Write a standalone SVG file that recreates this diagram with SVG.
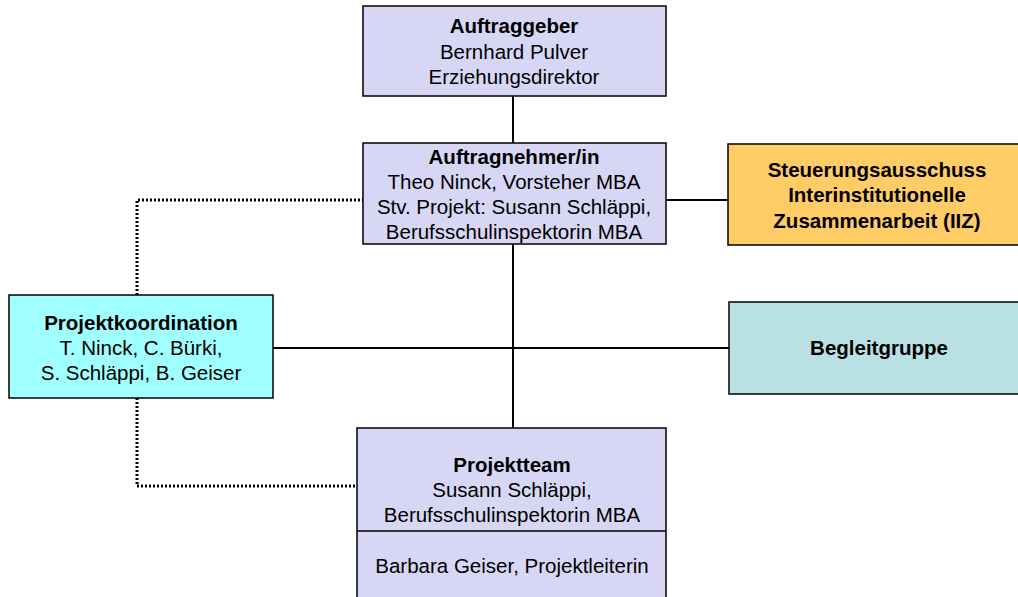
<svg xmlns="http://www.w3.org/2000/svg" width="1018" height="597" viewBox="0 0 1018 597">
<style>
.box{stroke:#000;stroke-width:1.5}
.lav{fill:#d7d7f5}
.cyan{fill:#a0ffff}
.orange{fill:#ffcc66}
.teal{fill:#b9e0e3}
text{font-family:"Liberation Sans",Arial,sans-serif;font-size:20.5px;fill:#000;text-anchor:middle}
.b{font-weight:bold}
.solid{stroke:#000;stroke-width:2;fill:none}
.dot{stroke:#000;stroke-width:3;stroke-dasharray:2 2;fill:none}
</style>
<rect width="1018" height="597" fill="#fff"/>
<g id="connectors">
<line class="solid" x1="513" y1="96" x2="513" y2="143"/>
<line class="solid" x1="513" y1="244" x2="513" y2="428"/>
<line class="solid" x1="666" y1="200" x2="728" y2="200"/>
<line class="solid" x1="273" y1="348" x2="729" y2="348"/>
<polyline class="dot" points="137,295 137,200 363,200"/>
<polyline class="dot" points="137,398 137,486 357,486"/>
</g>
<g id="auftraggeber">
<rect class="box lav" x="363" y="6" width="303" height="90"/>
<text class="b" x="514" y="33">Auftraggeber</text>
<text x="514" y="59">Bernhard Pulver</text>
<text x="514" y="84">Erziehungsdirektor</text>
</g>
<g id="auftragnehmer">
<rect class="box lav" x="363" y="143" width="303" height="101"/>
<text class="b" x="514" y="164">Auftragnehmer/in</text>
<text x="514" y="189">Theo Ninck, Vorsteher MBA</text>
<text x="514" y="214">Stv. Projekt: Susann Schläppi,</text>
<text x="514" y="239">Berufsschulinspektorin MBA</text>
</g>
<g id="steuerungsausschuss">
<rect class="box orange" x="728" y="144" width="298" height="101"/>
<text class="b" x="877" y="177">Steuerungsausschuss</text>
<text class="b" x="877" y="202">Interinstitutionelle</text>
<text class="b" x="877" y="228">Zusammenarbeit (IIZ)</text>
</g>
<g id="projektkoordination">
<rect class="box cyan" x="9" y="295" width="264" height="103"/>
<text class="b" x="141" y="330">Projektkoordination</text>
<text x="141" y="355">T. Ninck, C. Bürki,</text>
<text x="141" y="380">S. Schläppi, B. Geiser</text>
</g>
<g id="begleitgruppe">
<rect class="box teal" x="729" y="302" width="300" height="92"/>
<text class="b" x="879" y="355">Begleitgruppe</text>
</g>
<g id="projektteam">
<rect class="box lav" x="357" y="428" width="309" height="180"/>
<line class="box" x1="357" y1="531" x2="666" y2="531"/>
<text class="b" x="512" y="472">Projektteam</text>
<text x="512" y="497">Susann Schläppi,</text>
<text x="512" y="522">Berufsschulinspektorin MBA</text>
<text x="512" y="573">Barbara Geiser, Projektleiterin</text>
</g>
</svg>
